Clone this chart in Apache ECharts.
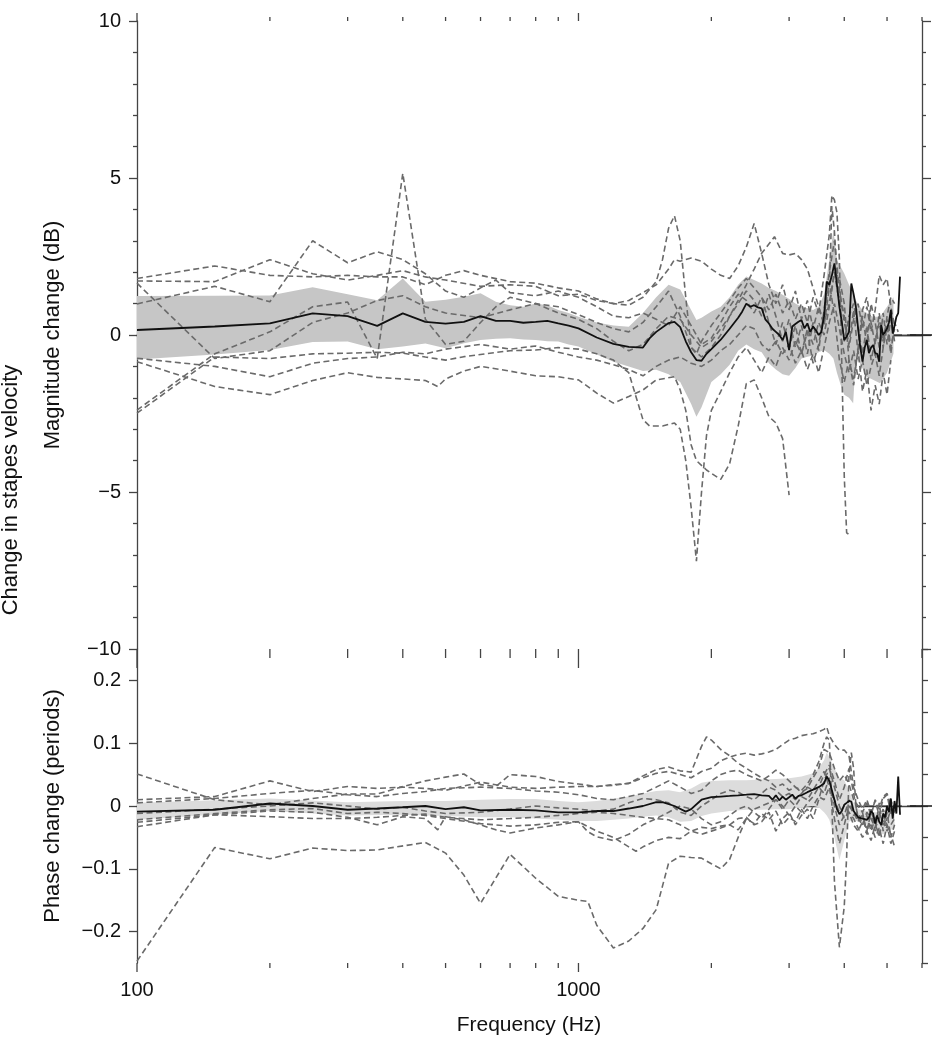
<!DOCTYPE html>
<html><head><meta charset="utf-8">
<script src="https://cdn.jsdelivr.net/npm/echarts@6/dist/echarts.min.js"></script>
<style>html,body{margin:0;padding:0;background:#fff}#chart{width:937px;height:1050px}</style>
</head><body><div id="chart"></div>
<script>
// ---------------- DATA ----------------
const X_MIN = 100, X_MAX = 6000;
const xMajorTicks = [100, 1000];
const xMinorTicks = [200,300,400,500,600,700,800,900,2000,3000,4000,5000,6000];
const magTickLabels = [-10,-5,0,5,10];
const phaseTickLabels = [-0.2,-0.1,0,0.1,0.2];
const zeroRef = 0;

// Magnitude: mean
const magMean = [[100,0.16],[150,0.27],[200,0.37],[250,0.69],[300,0.60],[350,0.29],[400,0.69],[450,0.42],[500,0.36],[550,0.42],[600,0.60],[650,0.45],[700,0.45],[750,0.39],[800,0.42],[850,0.45],[900,0.37],[950,0.30],[1000,0.21],[1100,-0.08],[1200,-0.28],[1300,-0.38],[1400,-0.40],[1450,-0.10],[1500,0.10],[1600,0.38],[1650,0.42],[1700,0.25],[1750,-0.20],[1800,-0.55],[1850,-0.80],[1900,-0.82],[1950,-0.60],[2000,-0.45],[2100,-0.15],[2200,0.20],[2300,0.55],[2350,0.75],[2400,1.00],[2450,0.90],[2500,0.95],[2550,0.88],[2600,0.85],[2650,0.50],[2700,0.37],[2750,0.20],[2800,0.10],[2850,0.00],[2900,-0.16],[2950,0.10],[3000,-0.48],[3050,0.27],[3100,0.35],[3150,0.42],[3200,0.48],[3250,0.21],[3300,0.37],[3350,0.10],[3400,0.27],[3450,0.15],[3500,0.00],[3550,0.10],[3600,0.60],[3650,1.70],[3700,1.60],[3750,1.90],[3800,2.28],[3850,1.60],[3900,0.90],[3950,0.40],[4000,-0.16],[4050,-0.05],[4100,0.10],[4150,1.64],[4200,1.30],[4250,0.90],[4300,0.20],[4350,-0.40],[4400,-0.85],[4450,-0.40],[4500,-0.16],[4550,-0.58],[4600,-0.40],[4650,-0.32],[4700,-0.58],[4750,-0.60],[4800,-0.85],[4850,0.32],[4900,0.00],[4950,0.10],[5000,0.21],[5050,0.40],[5100,0.80],[5150,0.05],[5200,0.30],[5250,0.58],[5300,0.70],[5350,1.86]];
// Magnitude: grey band
const magBandFreqs = [100,150,200,250,300,350,400,450,500,550,600,650,700,750,800,850,900,950,1000,1100,1200,1300,1400,1500,1600,1700,1800,1850,1900,2000,2100,2200,2300,2400,2500,2600,2700,2800,2900,3000,3100,3200,3300,3400,3500,3600,3700,3780,3850,3950,4000,4100,4190,4250,4340,4500,4660,4820,5000,5170];
const magBandUpper = [1.24,1.25,1.26,1.52,1.30,1.11,1.80,1.06,1.12,1.22,1.33,1.06,0.95,0.90,1.00,0.95,0.80,0.70,0.58,0.40,0.30,0.26,0.70,1.20,1.60,1.45,0.80,0.48,0.55,0.75,0.90,1.20,1.60,1.86,1.75,1.64,1.50,1.40,1.28,1.15,1.00,0.90,0.85,0.80,0.90,1.30,2.39,3.34,2.39,2.10,1.96,1.60,1.33,1.10,0.90,0.65,0.58,0.58,0.90,1.20];
const magBandLower = [-0.78,-0.62,-0.48,-0.22,-0.21,-0.45,-0.37,-0.27,-0.42,-0.26,-0.16,-0.12,-0.10,-0.14,-0.16,-0.20,-0.21,-0.30,-0.37,-0.62,-0.85,-1.00,-1.15,-1.11,-1.25,-1.50,-2.20,-2.60,-2.30,-1.50,-1.25,-0.95,-0.50,-0.30,-0.45,-0.55,-0.90,-1.10,-1.25,-1.30,-1.05,-0.75,-0.69,-0.65,-0.55,-0.48,-0.60,-0.75,-1.20,-1.70,-1.90,-2.00,-2.17,-0.70,-0.90,-1.33,-1.43,-1.54,-1.20,-0.60];
// Magnitude: individual ears
const magA = [[100,1.80],[150,2.20],[200,1.90],[250,1.85],[300,1.90],[350,1.85],[400,1.85],[450,1.60],[500,1.90],[550,2.05],[600,1.90],[700,1.70],[800,1.65],[900,1.50],[1000,1.40],[1100,1.15],[1200,1.00],[1300,0.95],[1400,1.20],[1500,1.70],[1550,2.40],[1600,3.40],[1650,3.80],[1700,3.00],[1750,1.20],[1800,-0.40],[1850,-0.60],[1900,-0.20],[2000,0.30],[2100,0.70],[2200,1.10],[2300,1.50],[2400,1.80],[2500,1.50],[2600,1.20],[2700,0.80],[2800,1.30],[2900,0.70],[3000,1.10],[3100,0.50],[3200,1.00],[3300,0.40],[3400,1.20],[3500,0.70],[3600,1.90],[3700,3.20],[3750,4.45],[3800,4.30],[3850,3.90],[3900,2.40],[3950,-1.00],[4000,-4.50],[4050,-6.30],[4100,-6.35]];
const magB = [[100,1.72],[150,1.70],[200,2.40],[250,1.95],[300,1.75],[350,1.90],[400,2.05],[450,1.85],[500,1.75],[600,1.55],[700,1.60],[800,1.55],[900,1.25],[1000,1.30],[1100,1.10],[1200,1.00],[1300,1.10],[1400,1.35],[1500,1.60],[1600,2.10],[1650,2.40],[1700,2.35],[1800,2.45],[1900,2.35],[2000,2.10],[2100,1.90],[2200,1.80],[2300,2.20],[2400,2.80],[2500,3.55],[2600,2.60],[2700,1.60],[2800,1.00],[2900,1.60],[3000,0.80],[3100,1.40],[3200,0.50],[3300,1.10],[3400,0.20],[3500,0.90],[3600,0.30],[3700,1.50],[3750,4.10],[3800,3.30],[3850,2.00],[3900,1.40],[4000,0.60],[4100,-0.40],[4200,0.50],[4300,1.00],[4400,0.20],[4500,0.90],[4600,0.10],[4700,0.80],[4800,1.90],[4900,1.60],[5000,1.80],[5100,0.90],[5200,0.30]];
const magC = [[100,1.65],[150,-0.75],[200,-0.50],[250,0.40],[300,0.70],[350,1.10],[400,1.25],[450,0.90],[500,0.70],[600,0.55],[700,0.80],[800,1.00],[900,0.90],[1000,0.65],[1100,0.40],[1200,0.20],[1300,0.10],[1400,0.40],[1500,0.90],[1600,1.40],[1700,0.60],[1800,-0.40],[1900,-0.70],[2000,-0.40],[2100,0.00],[2200,0.60],[2300,1.10],[2400,1.60],[2500,2.10],[2600,2.60],[2700,2.90],[2780,3.13],[2900,2.60],[3000,2.55],[3100,2.60],[3200,2.40],[3300,2.10],[3400,1.50],[3500,0.90],[3600,0.40],[3700,1.00],[3800,2.00],[3900,1.80],[4000,1.00],[4100,-0.80],[4200,-1.60],[4300,-0.40],[4400,0.80],[4500,1.20],[4600,0.40],[4700,-0.30],[4800,0.70],[4900,-0.20],[5000,0.50],[5100,-0.40],[5200,0.20]];
const magD = [[100,0.99],[150,1.55],[200,1.06],[250,3.00],[300,2.30],[350,2.65],[400,2.40],[450,1.95],[500,1.40],[550,1.20],[600,1.50],[650,1.75],[700,1.35],[800,1.25],[900,1.40],[1000,1.20],[1100,0.90],[1200,0.60],[1300,0.55],[1400,0.70],[1500,0.50],[1600,0.30],[1700,0.90],[1800,0.30],[1900,-0.30],[2000,-0.10],[2100,0.40],[2200,0.90],[2300,1.30],[2400,1.10],[2500,0.70],[2600,1.20],[2700,0.40],[2800,-0.30],[2900,0.40],[3000,-0.40],[3100,0.30],[3200,-0.60],[3300,0.10],[3400,-0.90],[3500,-0.30],[3600,0.60],[3700,1.70],[3800,0.60],[3900,-0.80],[4000,-1.50],[4100,-0.80],[4200,-1.40],[4300,-0.50],[4400,-1.80],[4500,-1.10],[4600,-2.40],[4700,-1.60],[4800,-2.20],[4900,-1.20],[5000,-1.90],[5100,-0.80]];
const magE = [[100,-0.74],[150,-1.00],[200,-1.33],[250,-0.90],[300,-0.75],[350,-0.70],[400,-0.55],[450,-0.60],[500,-0.45],[600,-0.30],[700,-0.45],[800,-0.35],[900,-0.55],[1000,-0.70],[1100,-0.80],[1200,-0.95],[1300,-1.10],[1400,-1.30],[1500,-1.00],[1600,-0.80],[1700,-0.70],[1800,-0.90],[1900,-1.00],[2000,-0.80],[2100,-0.50],[2200,-0.30],[2300,0.00],[2400,0.30],[2500,0.20],[2600,-0.30],[2700,-0.50],[2800,-0.20],[2900,-0.60],[3000,-0.30],[3100,-0.90],[3200,-0.50],[3300,-1.10],[3400,-0.60],[3500,-1.20],[3600,-0.40],[3700,0.40],[3800,1.00],[3900,0.20],[4000,-0.60],[4100,-1.20],[4200,-0.50],[4300,-1.40],[4400,-0.80],[4500,-1.60],[4600,-1.00],[4700,-0.60],[4800,-1.30],[4900,-0.40],[5000,0.30],[5100,-0.60],[5200,0.40],[5300,0.10]];
const magF = [[100,-0.85],[150,-1.64],[200,-1.90],[250,-1.45],[300,-1.20],[350,-1.35],[400,-1.40],[450,-1.45],[480,-1.64],[500,-1.40],[550,-1.15],[600,-1.00],[700,-1.15],[800,-1.30],[900,-1.33],[1000,-1.43],[1100,-1.85],[1200,-2.17],[1300,-1.96],[1400,-1.75],[1500,-1.43],[1650,-1.33],[1700,-1.75],[1750,-2.40],[1800,-3.50],[1850,-4.00],[1950,-4.30],[2100,-4.60],[2200,-4.10],[2300,-2.90],[2400,-1.55],[2500,-1.43],[2600,-2.00],[2700,-2.60],[2800,-2.80],[2900,-3.30],[3000,-5.10]];
const magG = [[100,-2.39],[150,-0.60],[200,0.10],[250,0.90],[300,1.05],[350,-0.75],[400,5.15],[450,0.50],[500,-0.30],[550,-0.20],[600,0.40],[650,0.90],[700,1.20],[800,1.00],[900,0.70],[1000,0.50],[1100,0.20],[1200,-0.20],[1300,-0.50],[1400,-0.30],[1500,0.20],[1600,0.60],[1700,0.50],[1800,0.00],[1900,-0.40],[2000,-0.20],[2100,0.20],[2200,0.60],[2300,1.00],[2400,1.40],[2500,1.10],[2600,0.60],[2700,1.30],[2800,0.60],[2900,-0.20],[3000,0.50],[3100,-0.40],[3200,0.30],[3300,-0.60],[3400,0.40],[3500,-0.50],[3600,0.80],[3700,2.00],[3800,3.00],[3900,1.40],[4000,0.40],[4100,-0.30],[4200,0.80],[4300,-0.60],[4400,0.60],[4500,-0.30],[4600,1.00],[4700,0.40],[4800,-0.40],[4900,0.70],[5000,-0.30],[5100,0.50],[5200,-0.20]];
const magH = [[100,-2.49],[150,-0.70],[200,-0.75],[250,-0.60],[300,-0.58],[350,-0.55],[400,-0.58],[450,-0.70],[500,-0.80],[550,-0.69],[600,-0.62],[700,-0.50],[800,-0.48],[900,-0.40],[1000,-0.45],[1100,-0.60],[1200,-0.80],[1300,-1.20],[1400,-2.70],[1450,-2.90],[1550,-2.90],[1650,-2.80],[1700,-3.00],[1750,-4.00],[1800,-5.50],[1850,-7.20],[1900,-5.00],[1950,-3.20],[2000,-2.40],[2100,-1.80],[2200,-1.20],[2300,-0.70],[2400,-0.40],[2500,-0.80],[2600,-1.20],[2700,-0.70],[2800,-1.00],[2900,-0.40],[3000,-0.80],[3100,-0.20],[3200,-0.60],[3300,0.20],[3400,-0.30],[3500,0.40],[3600,0.00],[3700,0.90],[3800,2.00],[3900,1.00],[4000,-0.20],[4100,0.60],[4200,1.00],[4300,0.20],[4400,-0.60],[4500,0.30],[4600,-0.80],[4700,-0.20],[4800,0.40],[4900,-0.40],[5000,0.60],[5100,1.20],[5200,1.00]];

// Phase: mean
const phaseMean = [[100,-0.009],[150,-0.006],[200,0.004],[250,0.000],[300,-0.006],[350,-0.004],[400,-0.002],[450,0.000],[500,-0.005],[550,-0.002],[600,-0.007],[700,-0.006],[800,-0.007],[900,-0.010],[1000,-0.010],[1100,-0.008],[1200,-0.008],[1300,-0.004],[1400,0.000],[1500,0.006],[1550,0.006],[1650,0.000],[1750,-0.009],[1800,-0.005],[1900,0.010],[2000,0.014],[2100,0.015],[2200,0.016],[2300,0.017],[2400,0.018],[2500,0.019],[2600,0.017],[2700,0.016],[2750,0.010],[2800,0.017],[2850,0.009],[2900,0.015],[2950,0.010],[3000,0.014],[3050,0.018],[3100,0.012],[3150,0.016],[3200,0.017],[3300,0.022],[3400,0.026],[3500,0.030],[3550,0.033],[3600,0.036],[3650,0.047],[3700,0.040],[3750,0.025],[3800,0.010],[3850,-0.005],[3900,-0.013],[3950,-0.008],[4000,0.002],[4050,0.005],[4100,0.008],[4150,0.007],[4200,-0.008],[4250,-0.013],[4300,-0.018],[4400,-0.020],[4500,-0.022],[4550,-0.018],[4600,-0.008],[4650,-0.012],[4700,-0.028],[4750,-0.015],[4800,-0.025],[4850,-0.030],[4900,-0.012],[4950,-0.018],[5000,0.000],[5050,-0.010],[5100,0.012],[5150,-0.020],[5200,0.008],[5250,-0.012],[5300,0.047],[5350,-0.014]];
// Phase: grey band
const phaseBandFreqs = [100,200,300,400,500,600,700,800,900,1000,1100,1200,1300,1400,1500,1600,1700,1800,1900,2000,2200,2400,2600,2800,3000,3200,3400,3500,3600,3650,3700,3800,3900,4000,4100,4200,4300,4500,4700,4900,5100,5200];
const phaseBandUpper = [0.005,0.012,0.006,0.008,0.008,0.010,0.011,0.011,0.008,0.006,0.008,0.012,0.015,0.020,0.024,0.025,0.022,0.028,0.037,0.040,0.041,0.041,0.042,0.043,0.044,0.047,0.052,0.060,0.073,0.085,0.078,0.060,0.045,0.041,0.025,0.005,-0.005,-0.008,-0.010,-0.008,-0.005,-0.005];
const phaseBandLower = [-0.022,-0.008,-0.015,-0.014,-0.016,-0.018,-0.018,-0.020,-0.022,-0.024,-0.024,-0.022,-0.020,-0.017,-0.015,-0.018,-0.025,-0.024,-0.016,-0.012,-0.008,-0.006,-0.006,-0.005,-0.005,-0.002,0.000,-0.002,-0.010,-0.015,-0.022,-0.050,-0.086,-0.055,-0.025,-0.022,-0.025,-0.030,-0.040,-0.045,-0.038,-0.035];
// Phase: individual ears
const phA = [[100,0.051],[150,0.010],[200,0.002],[250,0.012],[300,0.019],[350,0.019],[400,0.031],[450,0.040],[500,0.046],[550,0.051],[600,0.034],[650,0.031],[700,0.050],[800,0.047],[900,0.039],[1000,0.035],[1100,0.031],[1200,0.034],[1300,0.036],[1400,0.048],[1500,0.058],[1600,0.062],[1700,0.056],[1800,0.054],[1900,0.095],[1950,0.110],[2000,0.105],[2100,0.090],[2200,0.080],[2300,0.068],[2400,0.060],[2500,0.052],[2600,0.045],[2700,0.040],[2800,0.030],[2900,0.035],[3000,0.025],[3100,0.030],[3200,0.022],[3300,0.028],[3400,0.045],[3500,0.060],[3600,0.090],[3700,0.085],[3800,0.060],[3900,0.040],[4000,0.050],[4100,0.035],[4200,0.010],[4300,0.000],[4400,-0.010],[4500,0.005],[4600,-0.015],[4700,0.010],[4800,-0.005],[4900,0.015],[5000,0.020],[5100,0.000],[5200,-0.010]];
const phB = [[100,0.010],[150,0.015],[200,0.040],[250,0.023],[300,0.031],[350,0.028],[400,0.030],[450,0.028],[500,0.025],[600,0.038],[700,0.030],[800,0.028],[900,0.030],[1000,0.031],[1100,0.031],[1200,0.033],[1300,0.036],[1400,0.045],[1500,0.052],[1600,0.055],[1700,0.050],[1800,0.045],[1900,0.055],[2000,0.060],[2100,0.072],[2200,0.078],[2300,0.082],[2400,0.084],[2500,0.081],[2600,0.083],[2700,0.086],[2800,0.090],[2900,0.098],[3000,0.105],[3100,0.108],[3200,0.112],[3300,0.114],[3400,0.115],[3500,0.118],[3600,0.122],[3650,0.126],[3700,0.112],[3800,0.098],[3900,0.089],[4000,0.089],[4100,0.080],[4200,0.030],[4300,0.010],[4400,-0.005],[4500,0.010],[4600,-0.010],[4700,0.008],[4800,-0.015],[4900,0.012],[5000,0.018],[5100,-0.012],[5200,0.000]];
const phC = [[100,0.005],[150,0.012],[200,0.020],[250,0.025],[300,0.018],[350,0.015],[400,0.020],[450,0.023],[500,0.028],[600,0.030],[700,0.028],[800,0.024],[900,0.022],[1000,0.018],[1100,0.012],[1200,0.010],[1300,0.015],[1400,0.020],[1500,0.030],[1600,0.040],[1700,0.030],[1800,0.020],[1900,0.025],[2000,0.040],[2100,0.050],[2200,0.055],[2300,0.057],[2400,0.050],[2500,0.045],[2600,0.040],[2700,0.048],[2800,0.057],[2900,0.050],[3000,0.040],[3100,0.030],[3200,0.025],[3300,0.035],[3400,0.050],[3500,0.070],[3600,0.100],[3650,0.110],[3700,0.105],[3750,0.000],[3800,-0.120],[3900,-0.225],[4000,-0.160],[4050,-0.080],[4100,0.050],[4150,0.085],[4200,0.060],[4250,0.000],[4300,-0.020],[4400,-0.030],[4500,-0.010],[4600,-0.020],[4700,-0.035],[4800,-0.020],[4900,-0.005],[5000,-0.025],[5100,-0.005],[5200,-0.010]];
const phD = [[100,-0.012],[150,-0.005],[200,0.000],[250,0.005],[300,0.000],[350,-0.005],[400,-0.002],[450,-0.008],[500,-0.012],[600,-0.010],[700,-0.005],[800,0.000],[900,-0.003],[1000,-0.005],[1100,-0.008],[1200,-0.005],[1300,0.005],[1400,0.012],[1500,0.010],[1600,0.005],[1700,-0.010],[1800,-0.015],[1900,0.000],[2000,0.010],[2100,0.020],[2200,0.025],[2300,0.022],[2400,0.015],[2500,0.010],[2600,0.020],[2700,0.030],[2800,0.025],[2900,0.015],[3000,0.020],[3100,0.010],[3200,0.020],[3300,0.030],[3400,0.025],[3500,0.040],[3600,0.055],[3700,0.030],[3800,0.010],[3900,-0.010],[4000,0.000],[4100,-0.010],[4200,-0.020],[4300,-0.035],[4400,-0.050],[4500,-0.040],[4600,-0.055],[4700,-0.030],[4800,-0.045],[4900,-0.020],[5000,-0.040],[5100,-0.030],[5200,-0.020]];
const phE = [[100,-0.022],[150,-0.012],[200,-0.006],[250,-0.004],[300,-0.012],[350,-0.010],[400,-0.012],[450,-0.015],[500,-0.020],[600,-0.028],[700,-0.032],[800,-0.030],[900,-0.026],[1000,-0.025],[1100,-0.040],[1200,-0.050],[1300,-0.065],[1350,-0.072],[1400,-0.065],[1500,-0.055],[1600,-0.050],[1700,-0.052],[1800,-0.040],[1900,-0.034],[2000,-0.036],[2100,-0.032],[2200,-0.030],[2300,-0.020],[2400,-0.018],[2500,-0.030],[2600,-0.025],[2700,-0.010],[2800,-0.040],[2900,-0.020],[3000,-0.010],[3100,-0.030],[3200,-0.015],[3300,-0.005],[3400,-0.020],[3500,0.010],[3600,0.040],[3700,0.060],[3800,0.030],[3900,0.000],[4000,-0.020],[4100,-0.010],[4200,-0.030],[4300,-0.040],[4400,-0.025],[4500,-0.035],[4600,-0.030],[4700,-0.050],[4800,-0.035],[4900,-0.060],[5000,-0.030],[5100,-0.045],[5200,-0.065]];
const phF = [[100,-0.026],[150,-0.014],[200,-0.008],[250,-0.010],[300,-0.018],[350,-0.030],[400,-0.017],[450,-0.020],[480,-0.038],[500,-0.017],[550,-0.022],[600,-0.030],[650,-0.038],[700,-0.043],[800,-0.035],[900,-0.030],[1000,-0.025],[1050,-0.041],[1100,-0.049],[1200,-0.055],[1300,-0.045],[1400,-0.030],[1500,-0.020],[1600,-0.010],[1700,0.000],[1800,-0.005],[1900,-0.020],[2000,-0.030],[2100,-0.025],[2200,-0.015],[2300,-0.005],[2400,0.000],[2500,-0.010],[2600,-0.020],[2700,-0.005],[2800,0.010],[2900,0.000],[3000,-0.015],[3100,0.000],[3200,-0.010],[3300,0.005],[3400,0.015],[3500,0.030],[3600,0.020],[3700,0.045],[3800,0.000],[3900,-0.030],[4000,-0.015],[4100,0.010],[4200,-0.015],[4300,-0.010],[4400,-0.030],[4500,-0.015],[4600,-0.040],[4700,-0.020],[4800,-0.010],[4900,-0.030],[5000,-0.005],[5100,0.010],[5200,-0.010]];
const phG = [[100,-0.033],[150,-0.014],[200,-0.017],[250,-0.020],[300,-0.020],[350,-0.018],[400,-0.015],[450,-0.013],[500,-0.018],[600,-0.022],[700,-0.020],[800,-0.018],[900,-0.015],[1000,-0.012],[1100,-0.010],[1200,-0.012],[1300,-0.015],[1400,-0.018],[1500,-0.020],[1600,-0.022],[1700,-0.030],[1800,-0.040],[1900,-0.045],[2000,-0.040],[2100,-0.035],[2200,-0.030],[2300,-0.038],[2400,-0.020],[2500,-0.028],[2600,-0.012],[2700,-0.022],[2800,-0.008],[2900,-0.030],[3000,-0.018],[3100,-0.025],[3200,-0.005],[3300,-0.020],[3400,0.000],[3500,0.015],[3600,0.010],[3700,0.030],[3800,-0.020],[3900,-0.060],[4000,-0.030],[4100,0.000],[4200,-0.010],[4300,-0.025],[4400,-0.010],[4500,-0.045],[4600,-0.005],[4700,-0.040],[4800,0.005],[4900,-0.040],[5000,-0.010],[5100,-0.050],[5200,-0.030]];
const phH = [[100,-0.247],[150,-0.066],[200,-0.084],[250,-0.067],[300,-0.071],[350,-0.070],[450,-0.058],[500,-0.075],[550,-0.110],[600,-0.155],[700,-0.077],[800,-0.115],[900,-0.144],[1000,-0.150],[1050,-0.152],[1100,-0.190],[1200,-0.226],[1300,-0.215],[1400,-0.195],[1500,-0.165],[1600,-0.091],[1700,-0.080],[1800,-0.082],[1900,-0.083],[2000,-0.092],[2100,-0.100],[2200,-0.085],[2300,-0.050],[2400,-0.020],[2500,-0.005],[2600,0.000],[2700,0.005],[2800,0.010],[2900,-0.005],[3000,0.010],[3100,0.000],[3200,0.015],[3300,0.010],[3400,0.025],[3500,0.030],[3600,0.050],[3700,0.065],[3800,0.040],[3900,0.010],[4000,0.030],[4100,0.060],[4200,0.020],[4300,-0.020],[4400,-0.015],[4500,-0.040],[4600,-0.010],[4700,-0.025],[4800,-0.050],[4900,-0.015],[5000,-0.030],[5100,-0.060],[5200,-0.040]];

const magSubjects = [magA, magB, magC, magD, magE, magF, magG, magH];
const phaseSubjects = [phA, phB, phC, phD, phE, phF, phG, phH];

// ---------------- STYLE / OPTION ----------------
const FONT = '"Liberation Sans", Arial, Helvetica, sans-serif';
const AXIS = '#444';
const fmt = v => { if (Math.abs(v) < 1e-9) return '0'; return String(+v.toFixed(2)).replace('-', '\u2212'); };
const logLabel = v => { const l = Math.log10(v); return Math.abs(l - Math.round(l)) < 1e-6 ? String(Math.round(v)) : ''; };

function subjectSeries(data, xi, yi) {
  return { type: 'line', xAxisIndex: xi, yAxisIndex: yi, data, symbol: 'none', silent: true, z: 3,
    lineStyle: { color: '#6a6a6a', width: 1.6, type: [6, 3.5] } };
}
function meanSeries(data, xi, yi) {
  return { type: 'line', xAxisIndex: xi, yAxisIndex: yi, data, symbol: 'none', silent: true, z: 4,
    lineStyle: { color: '#111', width: 1.8 } };
}
// grey band: one polygon (upper edge forward, lower edge backward), placed through the axes
function bandSeries(freqs, lower, upper, xi, yi, color) {
  return { type: 'custom', xAxisIndex: xi, yAxisIndex: yi, silent: true, z: 2, clip: true,
    data: freqs.map((f, i) => [f, lower[i], upper[i]]),
    encode: { x: 0, y: [1, 2] },
    renderItem(params, api) {
      if (params.dataIndex !== 0) return null;
      const top = freqs.map((f, i) => api.coord([f, upper[i]]));
      const bot = freqs.map((f, i) => api.coord([f, lower[i]])).reverse();
      return { type: 'polygon', shape: { points: top.concat(bot) }, style: { fill: color, stroke: null } };
    } };
}
function zeroLineSeries(xi, yi) {
  return { type: 'line', xAxisIndex: xi, yAxisIndex: yi, silent: true, z: 1, symbol: 'none',
    data: [[X_MIN, zeroRef], [X_MAX, zeroRef]], lineStyle: { color: '#222', width: 1.2, type: [9, 5] } };
}
function tickSeries(xi, yi, edges) {
  const data = xMajorTicks.map(f => [f, 1]).concat(xMinorTicks.map(f => [f, 0]));
  return { type: 'custom', xAxisIndex: xi, yAxisIndex: yi, silent: true, z: 6, clip: false, data,
    renderItem(params, api) {
      const f = api.value(0), major = api.value(1);
      return { type: 'group', children: edges.map(e => {
        const p = api.coord([f, e.y]);
        const len = major ? e.major : e.minor;
        return { type: 'line', shape: { x1: p[0], y1: p[1], x2: p[0], y2: p[1] + e.dir * len },
          style: { stroke: AXIS, lineWidth: 1.3 } };
      }) };
    } };
}
function zeroMarkSeries(xi, yi) {
  return { type: 'custom', xAxisIndex: xi, yAxisIndex: yi, silent: true, z: 6, clip: false, data: [[X_MAX, zeroRef]],
    renderItem(params, api) {
      const p = api.coord([api.value(0), api.value(1)]);
      return { type: 'line', shape: { x1: p[0] - 12, y1: p[1], x2: p[0] + 10, y2: p[1] },
        style: { stroke: '#222', lineWidth: 1.6 } };
    } };
}

const xBase = { type: 'log', logBase: 10, min: X_MIN, max: X_MAX, splitLine: { show: false },
  axisTick: { show: false }, axisLine: { show: true, lineStyle: { color: AXIS, width: 1.3 } } };

const series = [];
series.push(zeroLineSeries(0, 0));
series.push(bandSeries(magBandFreqs, magBandLower, magBandUpper, 0, 0, '#c6c6c6'));
magSubjects.forEach(d => series.push(subjectSeries(d, 0, 0)));
series.push(meanSeries(magMean, 0, 0));
series.push(zeroLineSeries(2, 2));
series.push(bandSeries(phaseBandFreqs, phaseBandLower, phaseBandUpper, 2, 2, '#dcdcdc'));
phaseSubjects.forEach(d => series.push(subjectSeries(d, 2, 2)));
series.push(meanSeries(phaseMean, 2, 2));
series.push(tickSeries(0, 0, [{ y: 10, dir: -1, minor: 4, major: 8 }, { y: -10, dir: 1, minor: 9, major: 19 }]));
series.push(tickSeries(2, 2, [{ y: -0.25, dir: 1, minor: 5, major: 9 }]));
series.push(zeroMarkSeries(0, 0));
series.push(zeroMarkSeries(2, 2));

const option = {
  animation: false,
  backgroundColor: '#fff',
  grid: [
    { left: 137, right: 15, top: 21, height: 628 },
    { left: 137, right: 15, top: 649, height: 314 }
  ],
  xAxis: [
    Object.assign({}, xBase, { gridIndex: 0, position: 'bottom', axisLabel: { show: false } }),
    Object.assign({}, xBase, { gridIndex: 0, position: 'top', axisLabel: { show: false } }),
    Object.assign({}, xBase, { gridIndex: 1, position: 'bottom',
      axisLabel: { show: true, formatter: logLabel, margin: 17, fontSize: 20, fontFamily: FONT, color: '#111' } })
  ],
  yAxis: [
    { gridIndex: 0, type: 'value', position: 'left', min: -10, max: 10, interval: 5, splitLine: { show: false },
      axisLine: { show: true, lineStyle: { color: AXIS, width: 1.3 } },
      axisTick: { show: true, length: 8, lineStyle: { color: AXIS, width: 1.3 } },
      minorTick: { show: true, splitNumber: 5, length: 4, lineStyle: { color: AXIS, width: 1.3 } },
      axisLabel: { formatter: fmt, margin: 16, fontSize: 20, fontFamily: FONT, color: '#111',
        customValues: magTickLabels } },
    { gridIndex: 0, type: 'value', position: 'right', min: -10, max: 10, interval: 5, splitLine: { show: false },
      axisLine: { show: true, lineStyle: { color: AXIS, width: 1.3 } },
      axisTick: { show: true, length: 9, lineStyle: { color: AXIS, width: 1.3 } },
      minorTick: { show: true, splitNumber: 5, length: 4, lineStyle: { color: AXIS, width: 1.3 } },
      axisLabel: { show: false } },
    { gridIndex: 1, type: 'value', position: 'left', min: -0.25, max: 0.25, interval: 0.05, splitLine: { show: false },
      axisLine: { show: true, lineStyle: { color: AXIS, width: 1.3 } },
      axisTick: { show: true, length: 8, customValues: phaseTickLabels, lineStyle: { color: AXIS, width: 1.3 } },
      axisLabel: { formatter: fmt, margin: 16, fontSize: 20, fontFamily: FONT, color: '#111',
        customValues: phaseTickLabels } },
    { gridIndex: 1, type: 'value', position: 'right', min: -0.25, max: 0.25, interval: 0.05, splitLine: { show: false },
      axisLine: { show: true, lineStyle: { color: AXIS, width: 1.3 } },
      axisTick: { show: true, length: 6, lineStyle: { color: AXIS, width: 1.3 } },
      axisLabel: { show: false } }
  ],
  graphic: [
    { type: 'text', x: 11, y: 490, rotation: Math.PI / 2, silent: true,
      style: { text: 'Change in stapes velocity', font: '22px ' + FONT, fill: '#111', align: 'center', verticalAlign: 'middle' } },
    { type: 'text', x: 53, y: 335, rotation: Math.PI / 2, silent: true,
      style: { text: 'Magnitude change (dB)', font: '22px ' + FONT, fill: '#111', align: 'center', verticalAlign: 'middle' } },
    { type: 'text', x: 53, y: 806, rotation: Math.PI / 2, silent: true,
      style: { text: 'Phase change (periods)', font: '22px ' + FONT, fill: '#111', align: 'center', verticalAlign: 'middle' } },
    { type: 'text', x: 529, y: 1025, silent: true,
      style: { text: 'Frequency (Hz)', font: '21px ' + FONT, fill: '#111', align: 'center', verticalAlign: 'middle' } }
  ],
  series
};

const chart = echarts.init(document.getElementById('chart'), null, { renderer: 'canvas' });
chart.setOption(option);
</script>
</body></html>
